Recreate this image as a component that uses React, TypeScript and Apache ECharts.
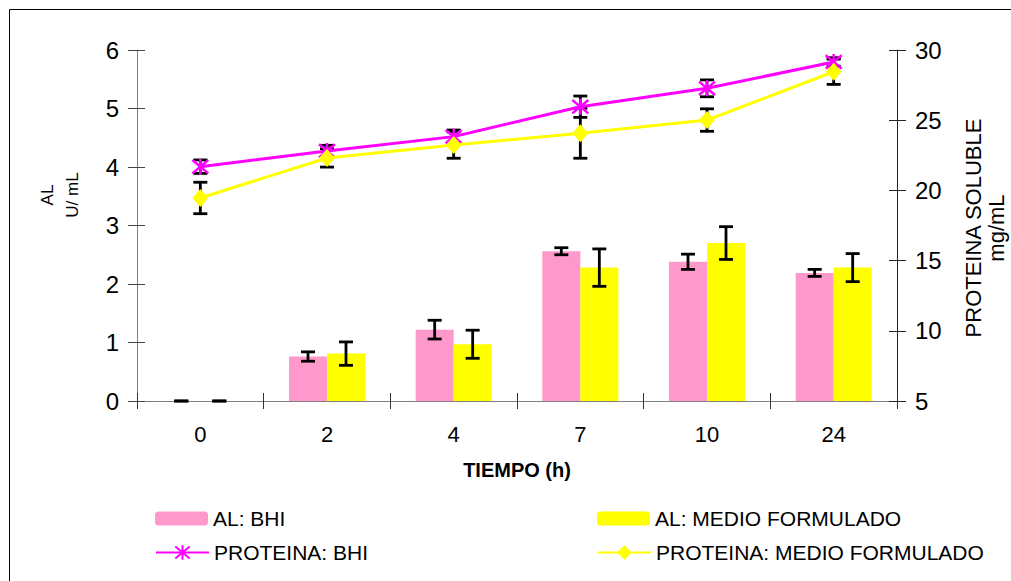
import React, { useEffect, useRef } from "react";
import * as echarts from "echarts";

const categories = ["0", "2", "4", "7", "10", "24"];
const alBhi = [0, 0.76, 1.22, 2.56, 2.38, 2.19];
const alBhiErr = [0, 0.08, 0.16, 0.06, 0.13, 0.06];
const alMf = [0, 0.81, 0.97, 2.28, 2.7, 2.28];
const alMfErr = [0, 0.2, 0.24, 0.32, 0.28, 0.24];
const protBhi = [21.69, 22.81, 23.83, 25.96, 27.27, 29.15];
const protBhiErr = [0.48, 0.4, 0.47, 0.76, 0.6, 0.3];
const protMf = [19.46, 22.31, 23.23, 24.07, 25.01, 28.45];
const protMfErr = [1.12, 0.65, 0.94, 1.78, 0.8, 0.9];

const FONT = "'Liberation Sans', Arial, sans-serif";
const STAR = "path://M0,0L10,10M10,0L0,10M5,-1L5,11";

function errSeries(vals: number[], errs: number[], offsetFrac: number, yAxisIndex: number, z: number) {
  return {
    type: "custom",
    yAxisIndex,
    z,
    silent: true,
    data: vals.map((v, i) => [i, v, errs[i]]),
    renderItem: (params: any, api: any) => {
      const x = api.value(0);
      const v = api.value(1);
      const e = api.value(2);
      const lo = api.coord([x, v - e]);
      const hi = api.coord([x, v + e]);
      const band = api.size([1, 0])[0];
      const cx = lo[0] + offsetFrac * band;
      const hw = 7;
      const st = { stroke: "#000", lineWidth: 2.8 };
      return {
        type: "group",
        children: [
          { type: "line", shape: { x1: cx, y1: lo[1], x2: cx, y2: hi[1] }, style: st },
          { type: "line", shape: { x1: cx - hw, y1: lo[1], x2: cx + hw, y2: lo[1] }, style: st },
          { type: "line", shape: { x1: cx - hw, y1: hi[1], x2: cx + hw, y2: hi[1] }, style: st },
        ],
      };
    },
  };
}

export default function App() {
  const ref = useRef<HTMLDivElement>(null);
  useEffect(() => {
    if (!ref.current) return;
    const chart = echarts.init(ref.current, undefined, { renderer: "svg" });
    const legendText = { fontFamily: FONT, fontSize: 21, color: "#000" };
    const legendBase = {
      orient: "horizontal",
      itemWidth: 53,
      itemHeight: 14,
      itemGap: 0,
      textStyle: legendText,
      selectedMode: false,
      padding: 0,
    };
    chart.setOption({
      animation: false,
      backgroundColor: "#fff",
      textStyle: { fontFamily: FONT },
      grid: { left: 137, right: 114, top: 50, bottom: 180, containLabel: false },
      xAxis: [
        {
          type: "category",
          data: categories,
          boundaryGap: true,
          axisLine: { onZero: false, lineStyle: { color: "#808080", width: 1 } },
          axisTick: { show: true, length: 8, inside: false, lineStyle: { color: "#333" } },
          axisLabel: { fontSize: 22, color: "#000", margin: 22, fontFamily: FONT },
          splitLine: { show: false },
        },
        {
          type: "category",
          data: categories,
          position: "bottom",
          boundaryGap: true,
          axisLine: { show: false },
          axisTick: { show: true, length: 8, inside: true, lineStyle: { color: "#333" } },
          axisLabel: { show: false },
          splitLine: { show: false },
        },
      ],
      yAxis: [
        {
          type: "value",
          min: 0,
          max: 6,
          interval: 1,
          position: "left",
          axisLine: { show: true, onZero: false, lineStyle: { color: "#808080" } },
          axisTick: { show: true, length: 9, lineStyle: { color: "#444" } },
          axisLabel: { fontSize: 24, color: "#000", margin: 18, fontFamily: FONT },
          splitLine: { show: false },
        },
        {
          type: "value",
          min: 5,
          max: 30,
          interval: 5,
          position: "right",
          axisLine: { show: true, onZero: false, lineStyle: { color: "#222" } },
          axisTick: { show: true, length: 9, lineStyle: { color: "#222" } },
          axisLabel: { fontSize: 24, color: "#000", margin: 18, fontFamily: FONT },
          splitLine: { show: false },
        },
        {
          type: "value",
          min: 0,
          max: 6,
          interval: 1,
          position: "left",
          axisLine: { show: false },
          axisTick: { show: true, inside: true, length: 8, lineStyle: { color: "#444" } },
          axisLabel: { show: false },
          splitLine: { show: false },
        },
        {
          type: "value",
          min: 5,
          max: 30,
          interval: 5,
          position: "right",
          axisLine: { show: false },
          axisTick: { show: true, inside: true, length: 8, lineStyle: { color: "#222" } },
          axisLabel: { show: false },
          splitLine: { show: false },
        },
      ],
      legend: [
        { ...legendBase, left: 155, top: 508, data: [{ name: "AL: BHI" }] },
        { ...legendBase, left: 597, top: 508, data: [{ name: "AL: MEDIO FORMULADO" }] },
        { ...legendBase, itemHeight: 18, left: 155, top: 542, data: [{ name: "PROTEINA: BHI" }] },
        { ...legendBase, itemHeight: 18, left: 597, top: 542, data: [{ name: "PROTEINA: MEDIO FORMULADO" }] },
      ],
      graphic: [
        {
          type: "polyline",
          silent: true,
          z: -10,
          shape: { points: [[9.5, 700], [9.5, 9.5], [1100, 9.5]] },
          style: { fill: "none", stroke: "#000", lineWidth: 1 },
        },
        {
          type: "text",
          x: 60,
          y: 195,
          rotation: Math.PI / 2,
          style: {
            text: "AL\nU/ mL",
            fontSize: 17,
            lineHeight: 25,
            fontFamily: FONT,
            fill: "#000",
            align: "center",
            verticalAlign: "middle",
          },
        },
        {
          type: "text",
          x: 985,
          y: 228,
          rotation: Math.PI / 2,
          style: {
            text: "PROTEINA SOLUBLE\nmg/mL",
            fontSize: 22,
            lineHeight: 23,
            fontFamily: FONT,
            fill: "#000",
            align: "center",
            verticalAlign: "middle",
          },
        },
        {
          type: "text",
          x: 517,
          y: 470,
          style: {
            text: "TIEMPO (h)",
            fontSize: 20,
            fontWeight: "bold",
            fontFamily: FONT,
            fill: "#000",
            align: "center",
            verticalAlign: "middle",
          },
        },
      ],
      series: [
        {
          name: "AL: BHI",
          type: "bar",
          data: alBhi,
          yAxisIndex: 0,
          barGap: "0%",
          barCategoryGap: "40%",
          itemStyle: { color: "#FF99CC" },
          z: 1,
        },
        {
          name: "AL: MEDIO FORMULADO",
          type: "bar",
          data: alMf,
          yAxisIndex: 0,
          barGap: "0%",
          barCategoryGap: "40%",
          itemStyle: { color: "#FFFF00" },
          z: 1,
        },
        errSeries(protBhi, protBhiErr, 0, 1, 2),
        errSeries(protMf, protMfErr, 0, 1, 2),
        {
          name: "PROTEINA: BHI",
          type: "line",
          data: protBhi,
          yAxisIndex: 1,
          symbol: STAR,
          symbolSize: 16,
          lineStyle: { color: "#FF00FF", width: 3 },
          itemStyle: { color: "#FF00FF", borderColor: "#FF00FF", borderWidth: 2.5 },
          z: 3,
        },
        {
          name: "PROTEINA: MEDIO FORMULADO",
          type: "line",
          data: protMf,
          yAxisIndex: 1,
          symbol: "diamond",
          symbolSize: [16, 18],
          lineStyle: { color: "#FFFF00", width: 3 },
          itemStyle: { color: "#FFFF00" },
          z: 4,
        },
        errSeries(alBhi, alBhiErr, -0.15, 0, 5),
        errSeries(alMf, alMfErr, 0.15, 0, 5),
      ],
    });
    return () => chart.dispose();
  }, []);
  return (
    <div
      ref={ref}
      style={{ position: "absolute", left: 0, top: 0, width: 1011, height: 581 }}
    />
  );
}
